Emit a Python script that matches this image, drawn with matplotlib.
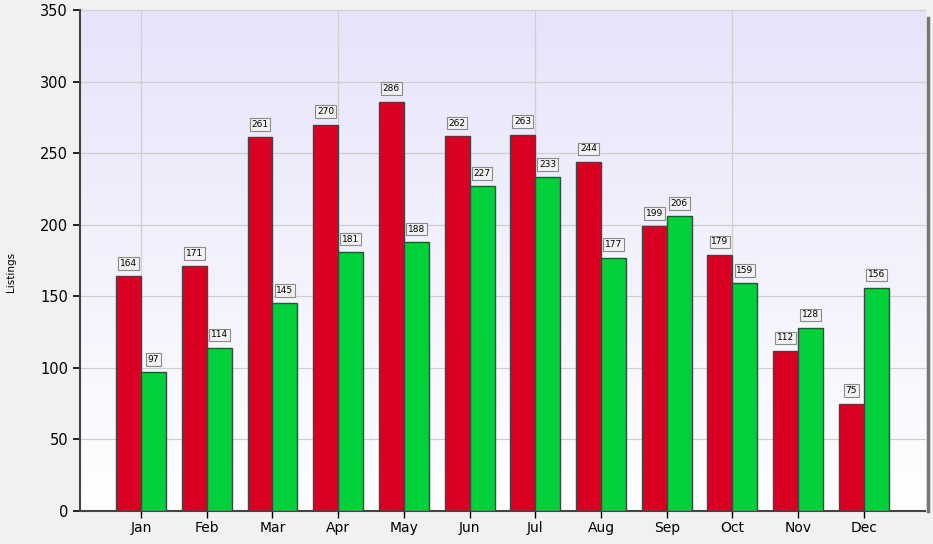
import numpy as np
import matplotlib
matplotlib.use('Agg')
import matplotlib.pyplot as plt
from matplotlib.colors import LinearSegmentedColormap

months = ['Jan', 'Feb', 'Mar', 'Apr', 'May', 'Jun', 'Jul', 'Aug', 'Sep', 'Oct', 'Nov', 'Dec']
red_vals = [164, 171, 261, 270, 286, 262, 263, 244, 199, 179, 112, 75]
green_vals = [97, 114, 145, 181, 188, 227, 233, 177, 206, 159, 128, 156]
y_ticks = [0, 50, 100, 150, 200, 250, 300, 350]

red = '#d90023'
green = '#00d03a'
edge = '#3c4848'
bw = 0.38

fig = plt.figure(figsize=(9.33, 5.44), dpi=100)
fig.patch.set_facecolor('#f1f1f1')
ax = fig.add_axes([0.0857, 0.0607, 0.9057, 0.9209])

# background gradient (lavender top -> white bottom)
cmap = LinearSegmentedColormap.from_list('bg', ['#ffffff', '#e6e4fa'])
grad = np.linspace(0, 1, 256).reshape(-1, 1)
ax.imshow(grad, cmap=cmap, origin='lower', aspect='auto',
          extent=[0, 1, 0, 1], transform=ax.transAxes, zorder=0)

x = np.arange(len(months))
ax.bar(x - bw / 2, red_vals, bw, color=red, edgecolor=edge, linewidth=1.0, zorder=3)
ax.bar(x + bw / 2, green_vals, bw, color=green, edgecolor=edge, linewidth=1.0, zorder=3)

box = dict(boxstyle='square,pad=0.2', facecolor='#f2f2f2', edgecolor='#8a8a8a', linewidth=0.8)
for xi, v in zip(x - bw / 2, red_vals):
    ax.annotate(str(v), (xi, v), xytext=(0, 6), textcoords='offset points',
                ha='center', va='bottom', fontsize=6.5, bbox=box, zorder=5)
for xi, v in zip(x + bw / 2, green_vals):
    ax.annotate(str(v), (xi, v), xytext=(0, 6), textcoords='offset points',
                ha='center', va='bottom', fontsize=6.5, bbox=box, zorder=5)

ax.set_xlim(-0.93, 11.93)
ax.set_ylim(0, 350)
ax.set_yticks(y_ticks)
ax.set_xticks(x)
ax.set_xticklabels(months, fontsize=10)
ax.tick_params(axis='y', labelsize=10.5, length=5, width=1.2)
ax.tick_params(axis='x', length=5, width=1.0, pad=2)

# vertical gridlines every 3 months, horizontal at ticks
for xg in x[::3]:
    ax.axvline(xg, color='#cfcfcf', linewidth=0.9, zorder=1)
for yg in y_ticks[1:]:
    ax.axhline(yg, color='#cfcfcf', linewidth=0.9, zorder=1, clip_on=False)

for s in ['top', 'right']:
    ax.spines[s].set_visible(False)
ax.spines['left'].set_color('#444444')
ax.spines['left'].set_linewidth(1.5)
ax.spines['bottom'].set_color('#444444')
ax.spines['bottom'].set_linewidth(1.5)
ax.plot([1.003, 1.003], [0, 0.985], transform=ax.transAxes, color='#777777',
        linewidth=2.5, clip_on=False, zorder=6)

fig.text(0.012, 0.5, 'Listings', rotation=90, va='center', ha='center', fontsize=7.5)

fig.savefig('out.png', dpi=100, facecolor=fig.get_facecolor())
